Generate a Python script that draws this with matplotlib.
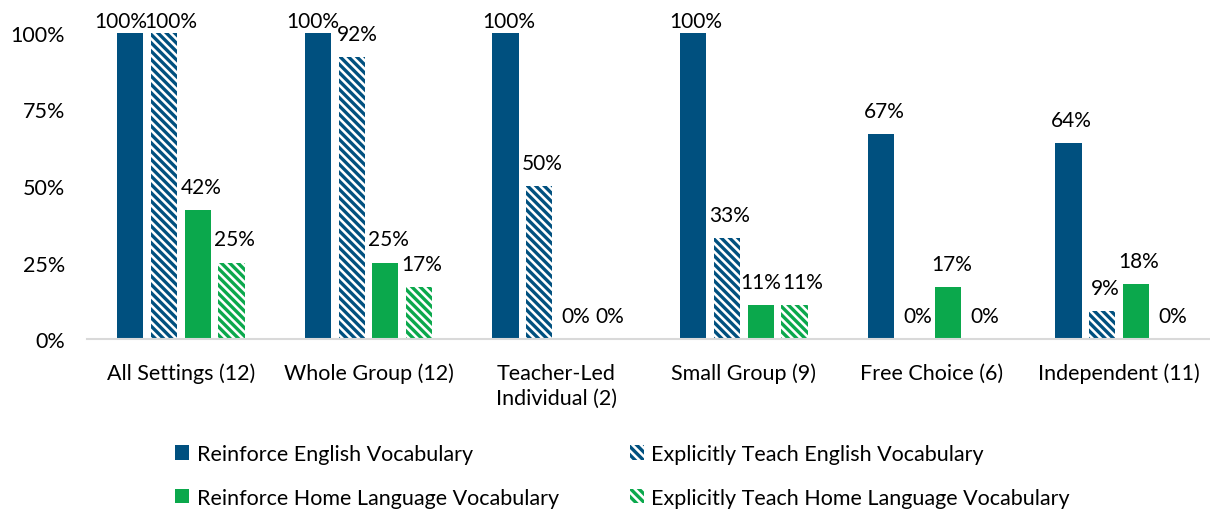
import numpy as np
import matplotlib
matplotlib.use("Agg")
import matplotlib.pyplot as plt

plt.rcParams["font.family"] = ["Lato", "DejaVu Sans"]
plt.rcParams["hatch.linewidth"] = 2.4

# --------- data ----------
categories = ["All Settings (12)", "Whole Group (12)", "Teacher-Led\nIndividual (2)",
              "Small Group (9)", "Free Choice (6)", "Independent (11)"]
series_names = ["Reinforce English Vocabulary", "Explicitly Teach English Vocabulary",
                "Reinforce Home Language Vocabulary", "Explicitly Teach Home Language Vocabulary"]
reinforce_en = [100, 100, 100, 100, 67, 64]
teach_en = [100, 92, 50, 33, 0, 9]
reinforce_home = [42, 25, 0, 11, 17, 18]
teach_home = [25, 17, 0, 11, 0, 0]
y_ticks = [0, 25, 50, 75, 100]

BLUE = "#00507f"
GREEN = "#0ba84c"
HATCH = "\\\\\\\\"
styles = [
    dict(color=BLUE, hatch=None),
    dict(color=BLUE, hatch=HATCH),
    dict(color=GREEN, hatch=None),
    dict(color=GREEN, hatch=HATCH),
]
# (group, series) -> horizontal label nudge in px, where labels crowd each other
nudges = {(0, 0): -9, (0, 1): 7, (1, 0): -5, (1, 1): 6, (3, 2): 0, (3, 3): 8}

fig = plt.figure(figsize=(12.1, 5.1), dpi=100)
ax = fig.add_axes([87 / 1210, 170 / 510, 1126 / 1210, 306 / 510])

x = np.arange(len(categories))
pitch = 0.18
width = 0.139
all_series = [reinforce_en, teach_en, reinforce_home, teach_home]
handles = []
for i, (vals, st) in enumerate(zip(all_series, styles)):
    pos = x + (i - 1.5) * pitch
    v = np.array(vals) / 100
    if st["hatch"]:
        bars = ax.bar(pos, v, width, facecolor="white", edgecolor=st["color"],
                      hatch=st["hatch"], linewidth=0)
    else:
        bars = ax.bar(pos, v, width, color=st["color"], linewidth=0)
    handles.append(bars)
    for j, (xp, val) in enumerate(zip(pos, vals)):
        off = 12 if val >= 99 else 23
        dx = nudges.get((j, i), 3)
        ax.annotate(f"{val}%", (xp, val / 100), xytext=(dx, off), textcoords="offset pixels",
                    ha="center", va="center", fontsize=15, color="black")

ax.set_xlim(-0.5, 5.5)
ax.set_ylim(0, 1)
ax.set_xticks(x)
ax.set_xticklabels(categories, fontsize=15.5, linespacing=1.3)
ax.set_yticks(np.array(y_ticks) / 100)
ax.set_yticklabels([f"{t}%" for t in y_ticks], fontsize=15.5)
ax.tick_params(axis="both", length=0)
ax.tick_params(axis="x", pad=17)
ax.tick_params(axis="y", pad=16)
for s in ["top", "right", "left"]:
    ax.spines[s].set_visible(False)
ax.spines["bottom"].set_color("#d9d9d9")
ax.spines["bottom"].set_linewidth(1.5)

order = [0, 2, 1, 3]
fig.legend([handles[i] for i in order], [series_names[i] for i in order],
           loc="upper left", bbox_to_anchor=(175 / 1210, 1 - 445 / 510), ncol=2,
           frameon=False, fontsize=15.5, handlelength=0.65, handleheight=0.65,
           handletextpad=0.35, columnspacing=3.3, labelspacing=1.1,
           borderpad=0, borderaxespad=0)

fig.savefig("out.png", dpi=100)
